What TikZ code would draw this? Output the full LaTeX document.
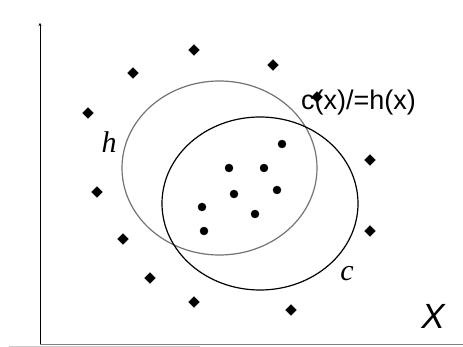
\documentclass[tikz,border=0pt]{standalone}
\usepackage{fontspec}
\newfontfamily\arialfont{Liberation Sans}
\newfontfamily\timesfont{Liberation Serif}
\usetikzlibrary{arrows.meta, positioning, shapes.geometric}

\begin{document}
\begin{tikzpicture}[x=1pt, y=-1pt,
    negpt/.style={draw, fill, diamond, inner sep=0pt, minimum size=11pt},
    pospt/.style={draw, fill, circle, inner sep=0pt, minimum size=8pt},
    region/.style={draw, ellipse, line width=1.2pt, inner sep=0pt},
    setlab/.style={font=\timesfont\itshape\fontsize{30}{31}\selectfont}]
  \useasboundingbox (0,0) rectangle (463,347);

  % axes
  \coordinate (top) at (40,23);
  \coordinate (orig) at (40,344);
  \coordinate (xend) at (463,344);
  \draw[line width=0.9pt, -{Stealth[length=3pt, width=3pt]}] (orig) -- (top);
  \draw[gray, line width=0.9pt] (orig) -- (xend);
  \coordinate (ga) at (9,346);
  \coordinate (gb) at (200,346);
  \draw[gray!40, line width=0.8pt] (ga) -- (gb);

  % hypothesis and concept
  \node[region, draw=black!55, minimum width=195pt, minimum height=174pt] (hyp) at (219.5,168) {};
  \node[region, draw=black, minimum width=196pt, minimum height=173pt] (conc) at (260,203.5) {};

  % negative points
  \node[negpt] (n1) at (194,50) {};
  \node[negpt] (n2) at (273,65) {};
  \node[negpt] (n3) at (133,73) {};
  \node[negpt] (n4) at (88,113) {};
  \node[negpt] (n5) at (317,97) {};
  \node[negpt] (n6) at (370,160) {};
  \node[negpt] (n7) at (97,192) {};
  \node[negpt] (n8) at (370,231) {};
  \node[negpt] (n9) at (123,239) {};
  \node[negpt] (n10) at (150,278) {};
  \node[negpt] (n11) at (194,302) {};
  \node[negpt] (n12) at (291,310) {};

  % positive points
  \node[pospt] (p1) at (282,144) {};
  \node[pospt] (p2) at (229,168) {};
  \node[pospt] (p3) at (264,168) {};
  \node[pospt] (p4) at (234,194) {};
  \node[pospt] (p5) at (277,190) {};
  \node[pospt] (p6) at (202,207) {};
  \node[pospt] (p7) at (255,214) {};
  \node[pospt] (p8) at (204,231) {};

  % labels
  \node[setlab] (hlab) at (109,142) {h};
  \node[setlab] (clab) at (347,274) {c};
  \node[font=\arialfont\fontsize{27}{28}\selectfont, anchor=west, inner sep=0pt] (err) at (301,103) {c(x)/=h(x)};
  \node[font=\arialfont\itshape\fontsize{35}{36}\selectfont] (xlab) at (433,316) {X};
\end{tikzpicture}
\end{document}
